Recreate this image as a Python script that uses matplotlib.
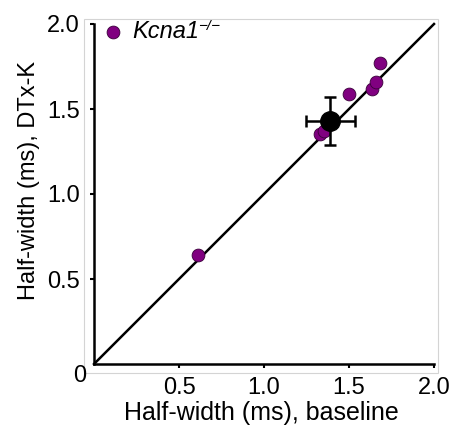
import matplotlib.pyplot as plt
from matplotlib.patches import Rectangle

# half-width values (ms) for Kcna1-/- cells
baseline = [0.61, 1.33, 1.35, 1.50, 1.635, 1.66, 1.68]
dtxk = [0.64, 1.35, 1.37, 1.59, 1.62, 1.66, 1.77]
mean_x, mean_y = 1.39, 1.43
err_x, err_y = 0.145, 0.14

xticks = [0.5, 1.0, 1.5, 2.0]
yticks = [0.5, 1.0, 1.5, 2.0]

plt.rcParams['font.family'] = ['Liberation Sans', 'DejaVu Sans']

fig = plt.figure(figsize=(4.57, 4.30), dpi=100)
W, H = 457, 430
ax = fig.add_axes([94 / W, 1 - 364 / H, 340 / W, 340 / H])

# light gray frame around the plot
fig.patches.append(Rectangle((84 / W, 1 - 373 / H), 354 / W, 354 / H,
                             transform=fig.transFigure, fill=False,
                             edgecolor='#d4d4d4', linewidth=0.8))

ax.plot([0, 2], [0, 2], color='black', lw=1.8, zorder=1, clip_on=False)
ax.scatter(baseline, dtxk, s=85, color='#800080', edgecolors='#3a003a',
           linewidths=0.6, zorder=3, clip_on=False)
ax.errorbar(mean_x, mean_y, xerr=err_x, yerr=err_y, fmt='o', color='black',
            ms=14, elinewidth=1.8, capsize=4, capthick=1.8, zorder=4)

ax.set_xlim(0, 2)
ax.set_ylim(0, 2)
ax.set_xticks(xticks)
ax.set_yticks(yticks)
ax.set_xticklabels([f'{v:.1f}' for v in xticks], fontsize=17)
ax.set_yticklabels([f'{v:.1f}' for v in yticks], fontsize=17)
ax.tick_params(direction='out', length=3, width=1.5)
ax.tick_params(axis='x', pad=6)
ax.tick_params(axis='y', pad=7)
fig.text(80 / W, 1 - 376 / H, '0', fontsize=17, ha='center', va='center')

for s in ['top', 'right']:
    ax.spines[s].set_visible(False)
for s in ['left', 'bottom']:
    ax.spines[s].set_linewidth(1.8)

fig.text(261 / W, 1 - 413 / H, 'Half-width (ms), baseline', fontsize=18,
         ha='center', va='center')
fig.text(29 / W, 1 - 181 / H, 'Half-width (ms), DTx-K', fontsize=17,
         ha='center', va='center', rotation=90)

# legend
ax.scatter([0.11], [1.955], s=85, color='#800080', edgecolors='#3a003a',
           linewidths=0.6, clip_on=False)
ax.text(0.225, 1.955, 'Kcna1', fontsize=17, style='italic', va='center', ha='left')
ax.text(0.61, 1.99, '\u2212/\u2212', fontsize=11, style='italic', va='center', ha='left')

fig.savefig('out.png', dpi=100)
